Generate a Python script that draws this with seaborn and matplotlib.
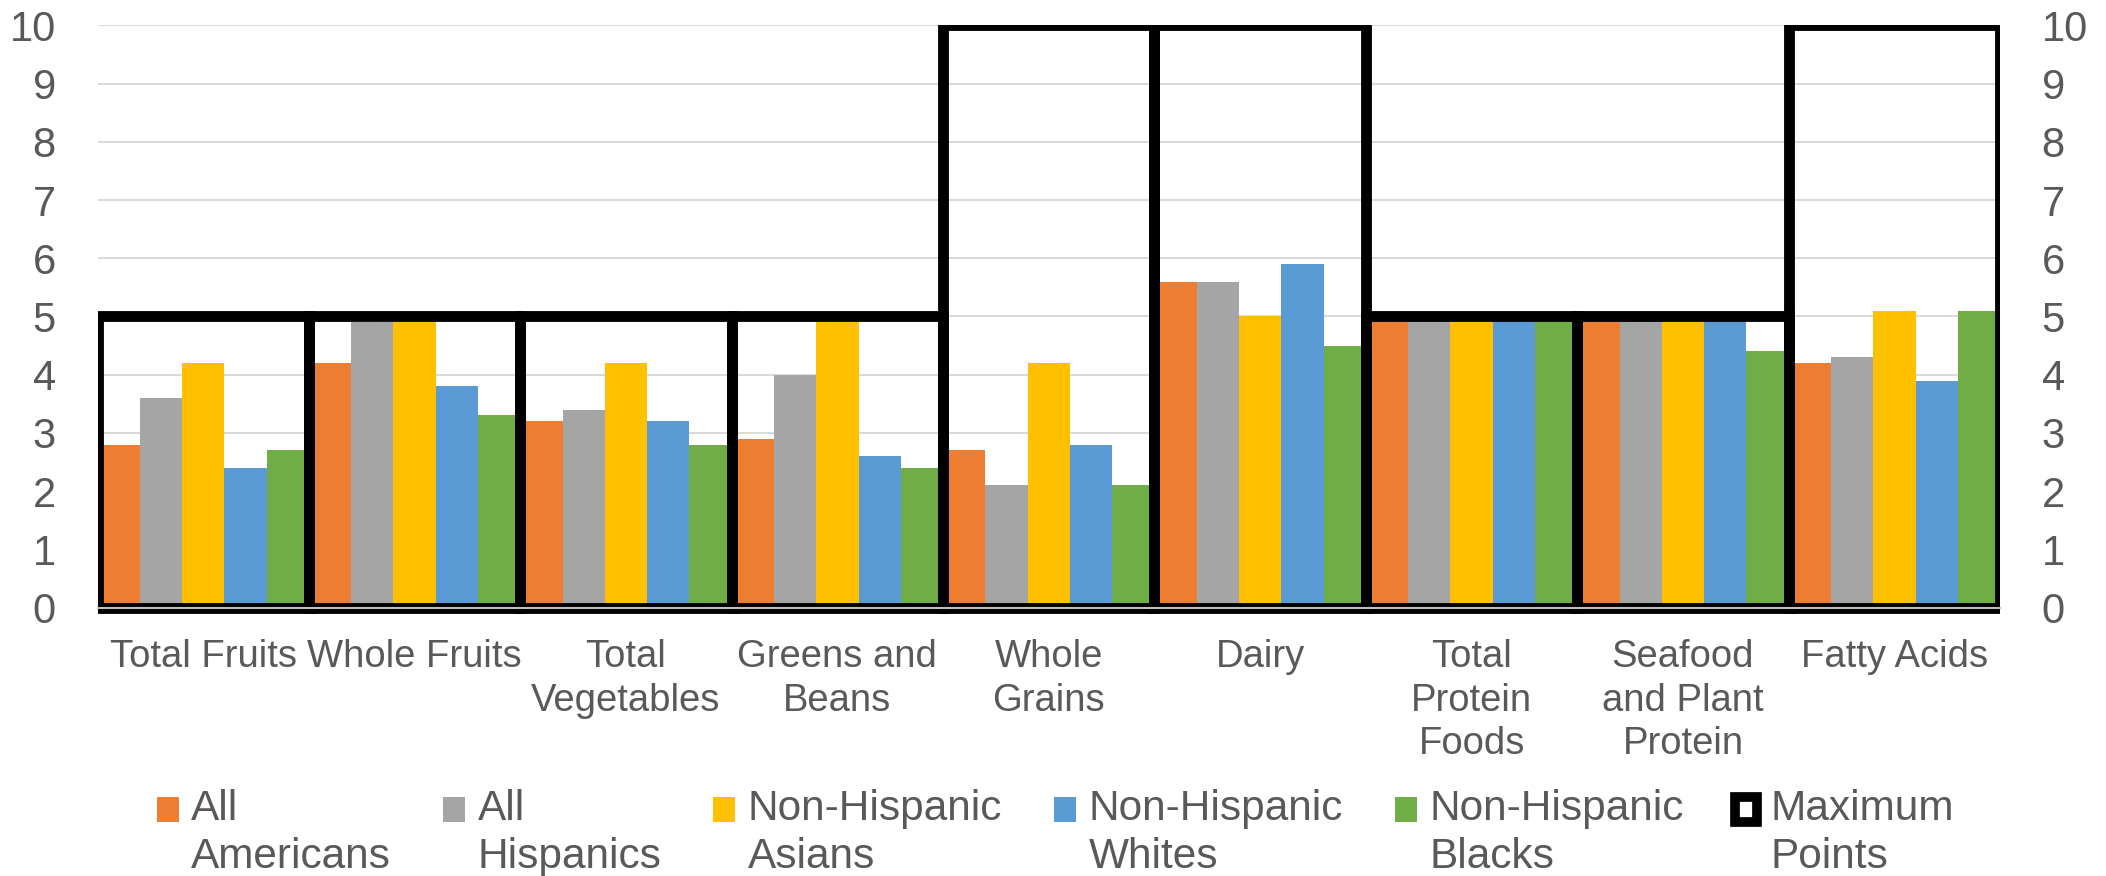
import matplotlib
matplotlib.use("Agg")
import matplotlib.pyplot as plt
import numpy as np
import pandas as pd
import seaborn as sns
from matplotlib.patches import Patch, Rectangle
from matplotlib.legend_handler import HandlerPatch
from matplotlib.transforms import Bbox, TransformedBbox

# ---------------- data ----------------
categories = ["Total Fruits", "Whole Fruits", "Total\nVegetables", "Greens and\nBeans",
              "Whole\nGrains", "Dairy", "Total\nProtein\nFoods",
              "Seafood\nand Plant\nProtein", "Fatty Acids"]
series_names = ["All\nAmericans", "All\nHispanics", "Non-Hispanic\nAsians",
                "Non-Hispanic\nWhites", "Non-Hispanic\nBlacks"]
max_label = "Maximum\nPoints"

all_americans = [2.8, 4.2, 3.2, 2.9, 2.7, 5.6, 5.0, 5.0, 4.2]
all_hispanics = [3.6, 4.9, 3.4, 4.0, 2.1, 5.6, 5.0, 5.0, 4.3]
nh_asians     = [4.2, 5.0, 4.2, 5.0, 4.2, 5.0, 5.0, 5.0, 5.1]
nh_whites     = [2.4, 3.8, 3.2, 2.6, 2.8, 5.9, 5.0, 5.0, 3.9]
nh_blacks     = [2.7, 3.3, 2.8, 2.4, 2.1, 4.5, 5.0, 4.4, 5.1]
max_points    = [5, 5, 5, 5, 10, 10, 5, 5, 10]

y_ticks = list(range(0, 11))

colors = ["#ED7D31", "#A5A5A5", "#FFC000", "#5B9BD5", "#70AD47"]
text_color = "#595959"

# long-form table
values = [all_americans, all_hispanics, nh_asians, nh_whites, nh_blacks]
rows = []
for name, vals in zip(series_names, values):
    for cat, v in zip(categories, vals):
        rows.append({"category": cat, "group": name, "score": v})
df = pd.DataFrame(rows)
df_max = pd.DataFrame({"category": categories, "score": max_points})

# ---------------- figure ----------------
sns.set_theme(style="white")
plt.rcParams["font.family"] = ["Liberation Sans", "DejaVu Sans"]

fig = plt.figure(figsize=(21.06, 8.76), dpi=100)
ax = fig.add_axes([0.0463, 0.3065, 0.9034, 0.6644])

sns.barplot(data=df, x="category", y="score", hue="group", order=categories,
            hue_order=series_names, palette=colors, width=1.0, gap=0, dodge=True,
            saturation=1, legend=False, linewidth=0, errorbar=None, ax=ax, zorder=2)

n_before = len(ax.patches)
sns.barplot(data=df_max, x="category", y="score", order=categories, width=1.0,
            fill=False, color="black", linewidth=7.5, errorbar=None, ax=ax, zorder=3)
clip_box = TransformedBbox(Bbox([[0.0, -0.1], [1.0, 1.0]]), ax.transAxes)
for p in ax.patches[n_before:]:
    p.set_edgecolor("black")
    p.set_facecolor("none")
    p.set_linewidth(7.8)
    p.set_zorder(3)
    p.set_clip_on(True)
    p.set_clip_box(clip_box)
    p.set_joinstyle("miter")

ax.set_xlim(-0.5, len(categories) - 0.5)
ax.set_ylim(0, 10)
ax.set_yticks(y_ticks)
ax.set_xlabel("")
ax.set_ylabel("")

ax.yaxis.grid(True, color="#D9D9D9", linewidth=1.4)
ax.xaxis.grid(False)
ax.set_axisbelow(True)

for side in ["top", "left", "right"]:
    ax.spines[side].set_visible(False)
ax.spines["bottom"].set_color("#BFBFBF")
ax.spines["bottom"].set_linewidth(1.5)
ax.spines["bottom"].set_zorder(6)

ax.tick_params(axis="y", which="both", length=0, labelsize=30, labelcolor=text_color,
               labelleft=True, labelright=True, pad=30)
ax.tick_params(axis="x", length=0, labelsize=27.5, labelcolor=text_color, pad=23)
for lbl in ax.get_xticklabels():
    lbl.set_linespacing(1.26)
    lbl.set_horizontalalignment("center")

# ---------------- legend ----------------
def shifted_rect(legend, orig_handle, xdescent, ydescent, width, height, fontsize):
    return Rectangle((-xdescent, -ydescent + 0.57 * fontsize), width, height)

handles = [Patch(facecolor=c, edgecolor="none") for c in colors]
handles.append(Patch(facecolor="white", edgecolor="black", linewidth=7, joinstyle="round"))
labels = series_names + [max_label]

leg = fig.legend(handles, labels, loc="upper center", bbox_to_anchor=(0.501, 0.099),
                 ncol=6, frameon=False, fontsize=30.5, labelcolor=text_color,
                 handlelength=0.52, handleheight=0.52, handletextpad=0.3,
                 columnspacing=1.22, borderpad=0, borderaxespad=0,
                 handler_map={Patch: HandlerPatch(patch_func=shifted_rect)})
for t in leg.get_texts():
    t.set_linespacing(1.24)

fig.savefig("out.png", dpi=100)
